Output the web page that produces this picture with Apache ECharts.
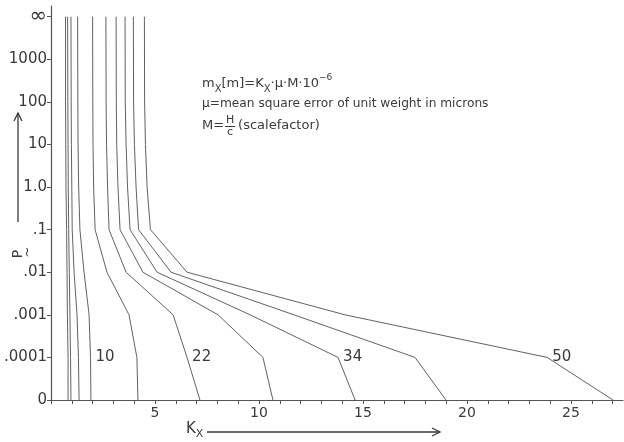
<!DOCTYPE html>
<html><head><meta charset="utf-8">
<script src="https://cdn.jsdelivr.net/npm/echarts@6/dist/echarts.min.js"></script>
<style>html,body{margin:0;padding:0;background:#fff}#c{width:624px;height:442px}</style>
</head><body><div id="c"></div>
<script>
// y tick labels (category levels drawn on a linear index axis 0..9)
const yTickLabels = ['0', '.0001', '.001', '.01', '.1', '1.0', '10', '100', '1000', '\u221e'];
const yLevels = [9, 7, 6, 5, 4, 3, 2, 1, 0];
const xLabelValues = [5, 10, 15, 20, 25];
// K_x values of each curve at the levels above
const curve1  = [0.70, 0.70, 0.71, 0.72, 0.75, 0.77, 0.79, 0.82, 0.82];
const curve2  = [0.80, 0.81, 0.82, 0.83, 0.85, 0.88, 0.91, 0.94, 0.96];
const curve3  = [0.96, 0.97, 0.98, 1.00, 1.02, 1.11, 1.25, 1.32, 1.35];
const curve4  = [1.28, 1.29, 1.30, 1.33, 1.39, 1.59, 1.83, 1.90, 1.92];
const curve5  = [2.00, 2.01, 2.02, 2.05, 2.12, 2.69, 3.75, 4.13, 4.18];
const curve6  = [2.64, 2.65, 2.67, 2.72, 2.79, 3.61, 5.87, 6.54, 7.16];
const curve7  = [3.13, 3.14, 3.16, 3.22, 3.32, 4.42, 8.03, 10.19, 10.67];
const curve8  = [3.56, 3.57, 3.61, 3.68, 3.80, 5.10, 9.57, 13.80, 14.62];
const curve9  = [3.96, 3.97, 4.01, 4.09, 4.21, 5.77, 11.68, 17.50, 18.99];
const curve10 = [4.49, 4.50, 4.54, 4.62, 4.78, 6.54, 14.13, 23.85, 27.02];
const curves = [curve1, curve2, curve3, curve4, curve5, curve6, curve7, curve8, curve9, curve10];
const curveNames = ['', '', '', '10', '', '22', '', '34', '', '50'];
const labelLevel = 1;

const FONT = '"DejaVu Sans", "Liberation Sans", sans-serif';
const INK = '#3a3a3a';
const LINE = '#626262';

const chart = echarts.init(document.getElementById('c'), null, {renderer: 'canvas'});

const series = curves.map((xs, ci) => ({
  type: 'line',
  symbol: 'none',
  silent: true,
  lineStyle: {color: LINE, width: 1},
  data: xs.map((x, i) => {
    const item = {value: [x, yLevels[i]]};
    if (curveNames[ci] && yLevels[i] === labelLevel) {
      item.label = {
        show: true, formatter: curveNames[ci], position: 'right', distance: 5,
        offset: [-6, -8], fontSize: 15, fontFamily: FONT, color: INK
      };
      item.symbol = 'circle'; item.symbolSize = 0.1;
    }
    return item;
  }),
  labelLayout: {hideOverlap: false}
}));

// text helper using measured widths
const mctx = document.createElement('canvas').getContext('2d');
function tw(t, s) { mctx.font = s + 'px ' + FONT; return mctx.measureText(t).width; }
function runText(x, y, parts) {
  const els = [];
  for (const [t, s, dy] of parts) {
    els.push({type: 'text', x: x, y: y + dy, silent: true,
      style: {text: t, fontSize: s, fontFamily: FONT, fill: INK, verticalAlign: 'middle', align: 'left'}});
    x += tw(t, s);
  }
  return {els, x};
}
const g = [];
const l1 = runText(202, 84, [['m', 13, 0], ['X', 10, 5], ['[m]=K', 13, 0], ['X', 10, 5], ['\u00b7\u03bc\u00b7M\u00b710', 13, 0], ['\u22126', 9, -6]]);
g.push(...l1.els);
const l2 = runText(202, 104, [['\u03bc=mean square error of unit weight in microns', 12.2, 0]]);
g.push(...l2.els);
const l3a = runText(202, 126, [['M=', 13, 0]]);
g.push(...l3a.els);
const fx = l3a.x + 1;
g.push({type: 'text', x: fx + 5, y: 120, silent: true, style: {text: 'H', fontSize: 11, fontFamily: FONT, fill: INK, verticalAlign: 'middle', align: 'center'}});
g.push({type: 'line', silent: true, shape: {x1: fx, y1: 126.5, x2: fx + 10, y2: 126.5}, style: {stroke: INK, lineWidth: 1}});
g.push({type: 'text', x: fx + 5, y: 132, silent: true, style: {text: 'c', fontSize: 11, fontFamily: FONT, fill: INK, verticalAlign: 'middle', align: 'center'}});
const l3b = runText(fx + 13, 126, [['(scalefactor)', 13, 0]]);
g.push(...l3b.els);
// x axis name with arrow
const xn = runText(186, 429, [['K', 15, 0], ['X', 11, 5]]);
g.push(...xn.els);
g.push({type: 'line', silent: true, shape: {x1: 207, y1: 432, x2: 440, y2: 432}, style: {stroke: INK, lineWidth: 1.3}});
g.push({type: 'polyline', silent: true, shape: {points: [[432, 428], [440, 432], [432, 436]]}, style: {stroke: INK, lineWidth: 1.3, fill: null}});
// y axis name with arrow (rotated)
g.push({type: 'line', silent: true, shape: {x1: 18, y1: 222, x2: 18, y2: 113}, style: {stroke: INK, lineWidth: 1.3}});
g.push({type: 'polyline', silent: true, shape: {points: [[14, 121], [18, 113], [22, 121]]}, style: {stroke: INK, lineWidth: 1.3, fill: null}});
g.push({type: 'text', x: 18, y: 254, rotation: Math.PI / 2, silent: true, style: {text: 'P', fontSize: 14, fontFamily: FONT, fill: INK, verticalAlign: 'middle', align: 'center'}});
g.push({type: 'text', x: 28, y: 252, rotation: Math.PI / 2, silent: true, style: {text: '~', fontSize: 13, fontFamily: FONT, fill: INK, verticalAlign: 'middle', align: 'center'}});

chart.setOption({
  animation: false,
  backgroundColor: '#fff',
  grid: {left: 51, right: 1, top: 6, bottom: 42, containLabel: false},
  xAxis: {
    type: 'value', min: 0, max: 27.5, interval: 1,
    axisLine: {show: true, lineStyle: {color: '#555', width: 1.2}},
    axisTick: {show: true, length: 4, inside: false, customValues: Array.from({length: 28}, (_, i) => i), lineStyle: {color: '#555'}},
    axisLabel: {show: true, customValues: xLabelValues, fontSize: 14, fontFamily: FONT, color: INK, margin: 6},
    splitLine: {show: false}
  },
  yAxis: {
    type: 'value', min: 0, max: 9.25, interval: 1,
    axisLine: {show: true, lineStyle: {color: '#555', width: 1.2}},
    axisTick: {show: true, length: 4, inside: false, customValues: yTickLabels.map((_, i) => i), lineStyle: {color: '#555'}},
    axisLabel: {
      show: true, customValues: yTickLabels.map((_, i) => i),
      formatter: v => v === 9 ? '{inf|' + yTickLabels[v] + '}' : (yTickLabels[v] || ''),
      rich: {inf: {fontSize: 21, fontFamily: FONT, color: INK}},
      fontSize: 15, fontFamily: FONT, color: INK, margin: 4
    },
    splitLine: {show: false}
  },
  series: series,
  graphic: g
});
</script></body></html>
